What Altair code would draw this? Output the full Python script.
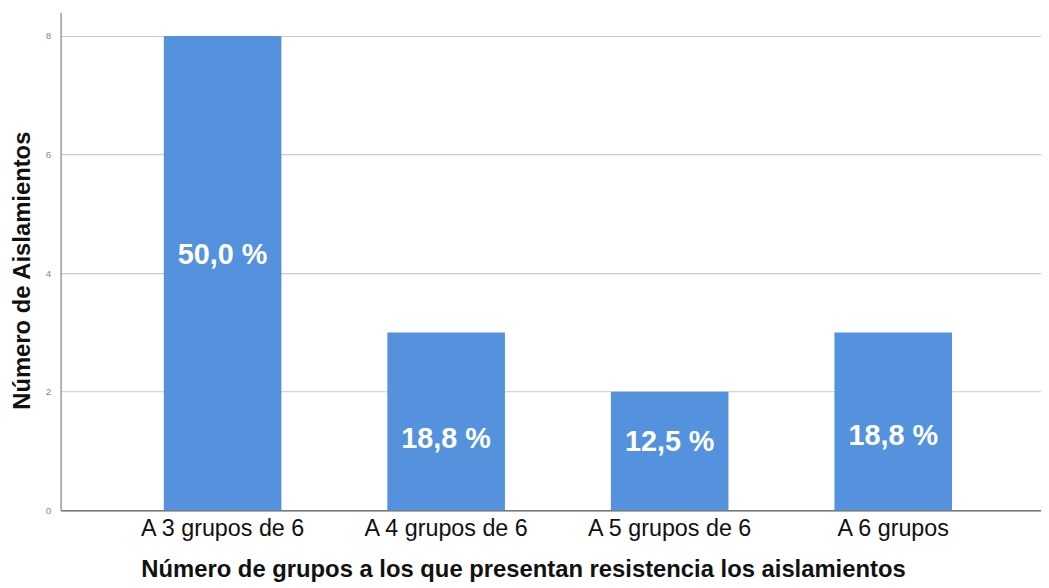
import altair as alt
import pandas as pd

categories = ["A 3 grupos de 6", "A 4 grupos de 6", "A 5 grupos de 6", "A 6 grupos"]
counts = [8, 3, 2, 3]
pct_labels = ["50,0 %", "18,8 %", "12,5 %", "18,8 %"]
label_pos = [4.30, 1.20, 1.15, 1.26]
y_ticks = [0, 2, 4, 6, 8]

df = pd.DataFrame({"cat": categories, "n": counts, "lab": pct_labels, "ly": label_pos})

x = alt.X("cat:N", sort=categories,
          scale=alt.Scale(paddingInner=0.474, paddingOuter=0.43, align=0.537),
          axis=alt.Axis(title="Número de grupos a los que presentan resistencia los aislamientos",
                        labelAngle=0, labelFontSize=23.5, labelColor="#111", labelFont="Liberation Sans",
                        labelPadding=6, tickSize=0, domainColor="#777", domainWidth=1.5,
                        titleFontSize=24, titleFont="Liberation Sans", titleFontWeight="bold",
                        titleColor="#111", titleX=466, titleY=67, titleBaseline="alphabetic",
                        titleAlign="center", grid=False))

bars = alt.Chart(df).mark_bar(color="#5592DE").encode(
    x=x,
    y=alt.Y("n:Q", scale=alt.Scale(domain=[0, 8.4], nice=False),
            axis=alt.Axis(title="Número de Aislamientos", values=y_ticks, format="d",
                          labelFontSize=10, labelColor="#888", labelPadding=10, tickSize=0,
                          domainColor="#999", domainWidth=1.5,
                          gridColor="#cccccc", gridWidth=1.2,
                          titleFontSize=24, titleFont="Liberation Sans", titleFontWeight="bold",
                          titleColor="#111", titleX=-31, titleY=260, titleAngle=270,
                          titleBaseline="alphabetic", titleAlign="center")),
)

text = alt.Chart(df).mark_text(color="white", fontSize=29, fontWeight="bold",
                                font="Liberation Sans", baseline="middle").encode(
    x=alt.X("cat:N", sort=categories),
    y=alt.Y("ly:Q"),
    text="lab:N",
)

chart = (bars + text).properties(
    width=988, height=502,
    autosize=alt.AutoSizeParams(type="none"),
    padding={"left": 53, "top": 2, "right": 0, "bottom": 76},
).configure_view(stroke=None).configure_axis(gridOpacity=1)

chart.save("out.html", embed_options={"renderer": "svg", "actions": False})
